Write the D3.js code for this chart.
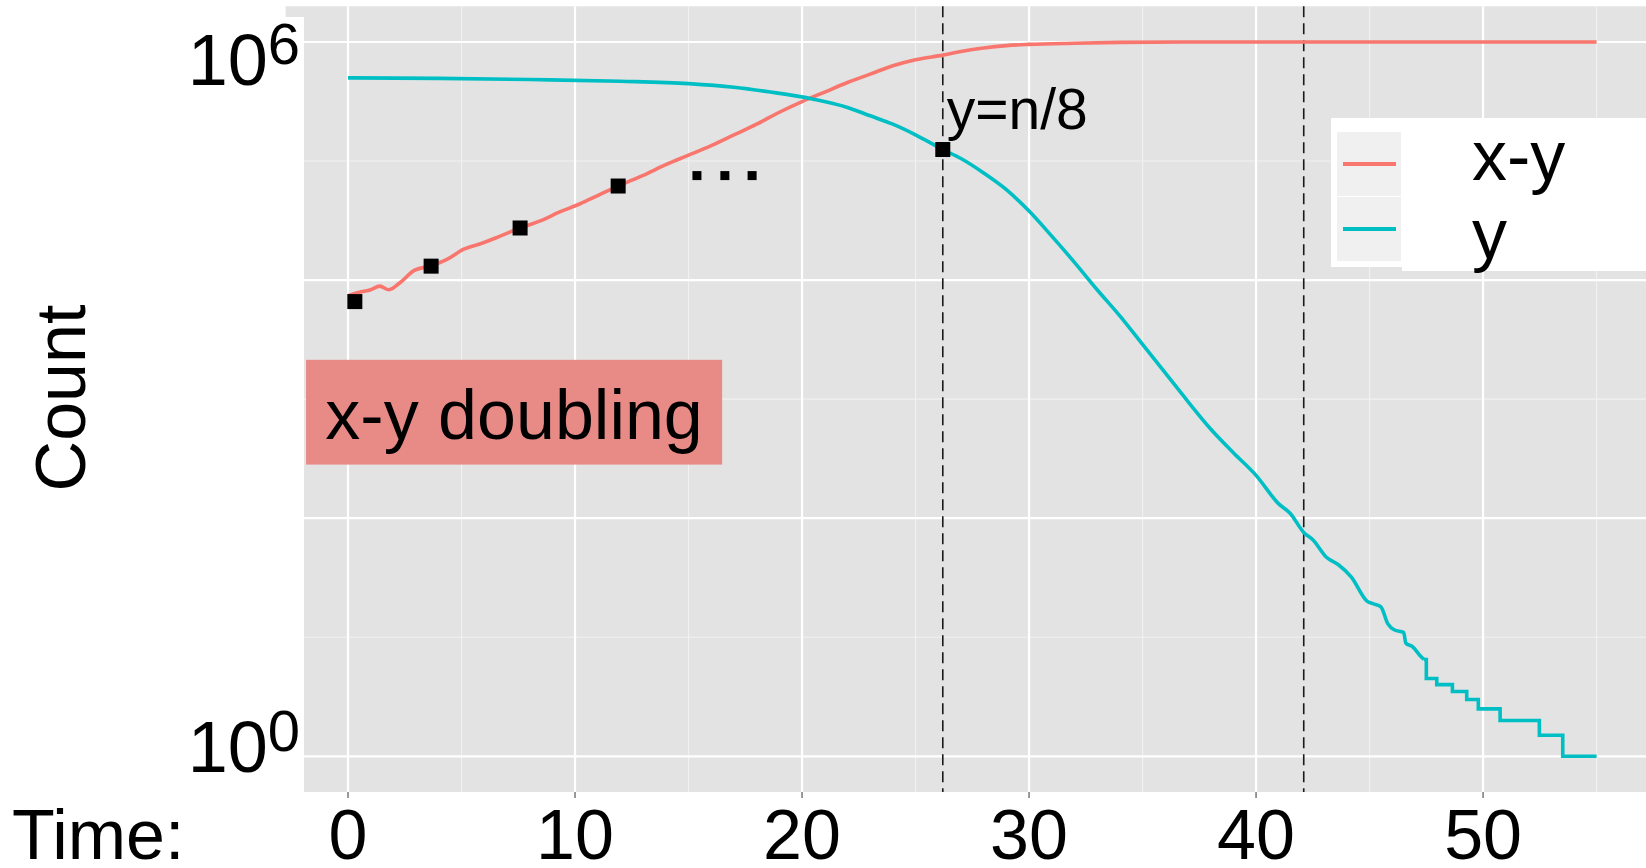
<!DOCTYPE html>
<html>
<head>
<meta charset="utf-8">
<script src="https://cdn.jsdelivr.net/npm/d3@7"></script>
<style>
body { margin: 0; background: #fff; }
svg text { font-family: "Liberation Sans", Arial, Helvetica, sans-serif; fill: #000; }
</style>
</head>
<body>
<script>
var width = 1646;
var height = 868;

// x-y curve (time, count)
var xyTime = [0, 0.5, 1.0, 1.4, 1.8, 2.3, 2.9, 3.66, 4.4, 5.1, 5.9, 6.7, 7.6, 8.5, 9.3, 10.2, 11.0, 11.9,
  13, 14, 15, 16, 17, 18, 19, 20, 21, 22, 23, 24, 25, 26.2, 27, 28, 29, 30, 32, 34, 37, 55];
var xyCount = [7400, 7900, 8300, 8900, 8300, 9550, 12000, 13200, 15100, 18200, 20400, 23400, 27500, 31600,
  37200, 43600, 51300, 61700, 75900, 93300, 112000, 135000, 166000, 204000, 257000, 316000, 380000,
  457000, 537000, 631000, 708000, 776000, 832000, 891000, 933000, 955000, 977000, 993000, 1000000, 1000000];

// y curve, smooth part
var yTime = [0, 4, 8, 12, 15, 17, 18.6, 20.5, 22, 23, 24, 25, 26.2, 27, 28, 29, 30, 31, 32, 33, 34, 35, 36,
  37, 38, 39, 40, 41, 41.5, 42.1, 42.5, 43.1, 43.6, 44.2, 44.9, 45.2, 45.5, 45.8, 46.1, 46.5, 46.6, 46.9,
  47.2, 47.4];
var yCount = [500000, 495000, 484000, 468000, 447000, 417000, 380000, 331000, 282000, 240000, 204000,
  166000, 125000, 105000, 79400, 57500, 38000, 23400, 14100, 8300, 5000, 2880, 1660, 955, 562, 355, 229,
  132, 110, 76, 66, 47, 41, 32, 20, 19, 18, 13, 11.5, 11, 8.9, 8.3, 7.1, 6.5];

// y curve, stepped tail
var yStepTime = [47.5, 47.96, 48.65, 49.28, 49.79, 50.75, 52.48, 53.51, 55];
var yStepCount = [4.5, 4, 3.5, 3, 2.5, 2, 1.5, 1, 1];

// marked points
var markTime = [0.3, 3.66, 7.58, 11.9, 26.2];
var markCount = [6600, 13100, 27400, 61700, 125000];
var dotTime = [15.37, 16.6, 17.8];
var dotCount = [75500, 75500, 75500];

var vlineTime = [26.2, 42.1];
var xTicks = [0, 10, 20, 30, 40, 50];
var xMinor = [5, 15, 25, 35, 45, 55];
var yMajor = [1, 100, 10000, 1000000];
var yMinor = [10, 1000, 100000];
var yLabelPow = [6, 0];

// annotation box (time and count bounds)
var boxTime = [-1.85, 16.48];
var boxCount = [282, 2140];

var seriesNames = ["x-y", "y"];
var seriesColors = ["#F8766D", "#00BFC4"];

var x = d3.scaleLinear().domain([-2.75, 57.75]).range([285.6, 1659]);
var y = d3.scaleLog().domain([Math.pow(10, -0.3), Math.pow(10, 6.3)]).range([792, 6.3]);

var svg = d3.select("body").append("svg")
  .attr("width", width)
  .attr("height", height);

var panelTop = y.range()[1], panelBottom = y.range()[0];

svg.append("rect")
  .attr("x", x.range()[0]).attr("y", panelTop)
  .attr("width", width - x.range()[0]).attr("height", panelBottom - panelTop)
  .attr("fill", "#e3e3e3");

// grid
svg.append("g").selectAll("line").data(xMinor).enter().append("line")
  .attr("x1", d => x(d)).attr("x2", d => x(d))
  .attr("y1", panelTop).attr("y2", panelBottom)
  .attr("stroke", "#f1f1f1").attr("stroke-width", 1.1);
svg.append("g").selectAll("line").data(yMinor).enter().append("line")
  .attr("x1", x.range()[0]).attr("x2", width)
  .attr("y1", d => y(d)).attr("y2", d => y(d))
  .attr("stroke", "#f1f1f1").attr("stroke-width", 1.1);
svg.append("g").selectAll("line").data(xTicks).enter().append("line")
  .attr("x1", d => x(d)).attr("x2", d => x(d))
  .attr("y1", panelTop).attr("y2", panelBottom)
  .attr("stroke", "#fff").attr("stroke-width", 2.2);
svg.append("g").selectAll("line").data(yMajor).enter().append("line")
  .attr("x1", x.range()[0]).attr("x2", width)
  .attr("y1", d => y(d)).attr("y2", d => y(d))
  .attr("stroke", "#fff").attr("stroke-width", 2.2);

// dashed lines
svg.append("g").selectAll("line").data(vlineTime).enter().append("line")
  .attr("x1", d => x(d)).attr("x2", d => x(d))
  .attr("y1", panelTop).attr("y2", panelBottom)
  .attr("stroke", "#1a1a1a").attr("stroke-width", 1.6)
  .attr("stroke-dasharray", "11,6");

var smooth = d3.line()
  .x(d => x(d[0]))
  .y(d => y(d[1]))
  .curve(d3.curveMonotoneX);
var steps = d3.line()
  .x(d => x(d[0]))
  .y(d => y(d[1]))
  .curve(d3.curveStepAfter);

var xyPts = xyTime.map((t, i) => [t, xyCount[i]]);
var yPts = yTime.map((t, i) => [t, yCount[i]]);
var tailPts = [yPts[yPts.length - 1]].concat(yStepTime.map((t, i) => [t, yStepCount[i]]));

svg.append("path").datum(xyPts)
  .attr("d", smooth)
  .attr("fill", "none").attr("stroke", seriesColors[0])
  .attr("stroke-width", 3.6).attr("stroke-linejoin", "round");
svg.append("path").datum(yPts)
  .attr("d", smooth)
  .attr("fill", "none").attr("stroke", seriesColors[1])
  .attr("stroke-width", 3.6).attr("stroke-linejoin", "round");
svg.append("path").datum(tailPts)
  .attr("d", steps)
  .attr("fill", "none").attr("stroke", seriesColors[1])
  .attr("stroke-width", 3.6).attr("stroke-linejoin", "miter");

// squares
var sq = 15;
svg.append("g").selectAll("rect").data(markTime).enter().append("rect")
  .attr("x", (d, i) => x(d) - sq / 2).attr("y", (d, i) => y(markCount[i]) - sq / 2)
  .attr("width", sq).attr("height", sq).attr("fill", "#000");
var ds = 9;
svg.append("g").selectAll("rect").data(dotTime).enter().append("rect")
  .attr("x", (d, i) => x(d) - ds / 2).attr("y", (d, i) => y(dotCount[i]) - ds / 2)
  .attr("width", ds).attr("height", ds).attr("fill", "#000");

svg.append("text")
  .attr("x", x(vlineTime[0]) + 4)
  .attr("y", y(markCount[4]) - 21)
  .attr("font-size", 57)
  .text("y=n/8");

// annotation box
svg.append("rect")
  .attr("x", x(boxTime[0])).attr("y", y(boxCount[1]))
  .attr("width", x(boxTime[1]) - x(boxTime[0]))
  .attr("height", y(boxCount[0]) - y(boxCount[1]))
  .attr("fill", "#e88a86");
svg.append("text")
  .attr("x", (x(boxTime[0]) + x(boxTime[1])) / 2)
  .attr("y", y(boxCount[0]) - 26)
  .attr("text-anchor", "middle")
  .attr("font-size", 70)
  .text("x-y doubling");

// white strip left of panel
svg.append("rect")
  .attr("x", 0).attr("y", 17)
  .attr("width", 304).attr("height", height - 17)
  .attr("fill", "#fff");

// y labels
var yLab = svg.append("g").selectAll("text").data(yLabelPow).enter().append("text")
  .attr("x", 300)
  .attr("y", d => y(Math.pow(10, d)) + (d === 6 ? 43 : 16))
  .attr("text-anchor", "end")
  .attr("font-size", 72);
yLab.append("tspan").text("10");
yLab.append("tspan").attr("dy", -21).attr("font-size", 58).text(d => d);

svg.append("text")
  .attr("transform", "translate(85,398) rotate(-90)")
  .attr("text-anchor", "middle")
  .attr("font-size", 70)
  .text("Count");

// x axis
svg.append("g").selectAll("line").data(xTicks).enter().append("line")
  .attr("x1", d => x(d)).attr("x2", d => x(d))
  .attr("y1", panelBottom).attr("y2", panelBottom + 6)
  .attr("stroke", "#777").attr("stroke-width", 1.5);
svg.append("g").selectAll("text").data(xTicks).enter().append("text")
  .attr("x", d => x(d)).attr("y", 859)
  .attr("text-anchor", "middle")
  .attr("font-size", 70)
  .text(d => d);
svg.append("text")
  .attr("x", 12).attr("y", 859)
  .attr("font-size", 70)
  .text("Time:");

// legend
var lg = svg.append("g");
lg.append("rect").attr("x", 1331).attr("y", 118).attr("width", 80).attr("height", 149).attr("fill", "#fff");
lg.append("rect").attr("x", 1402).attr("y", 118).attr("width", 244).attr("height", 153).attr("fill", "#fff");
var items = lg.selectAll("g.item").data(seriesNames).enter().append("g")
  .attr("transform", (d, i) => "translate(1337," + (132 + i * 65) + ")");
items.append("rect").attr("width", 64).attr("height", 64).attr("fill", "#f0f0f0");
items.append("line")
  .attr("x1", 6).attr("x2", 59).attr("y1", 32).attr("y2", 32)
  .attr("stroke", (d, i) => seriesColors[i]).attr("stroke-width", 4);
items.append("text")
  .attr("x", 135).attr("y", (d, i) => i === 0 ? 48 : 61)
  .attr("font-size", 70)
  .text(d => d);
</script>
</body>
</html>
